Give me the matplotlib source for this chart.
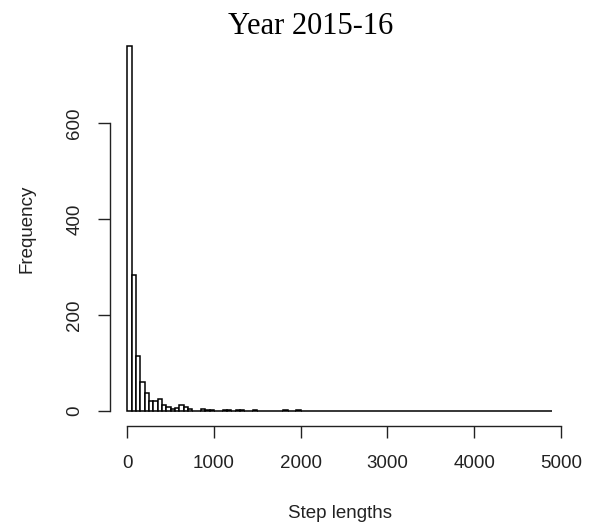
import numpy as np
import matplotlib
matplotlib.use("Agg")
import matplotlib.pyplot as plt

# histogram of step lengths, bins of width 50 from 0 to 4900
bin_width = 50
counts = [760, 283, 114, 61, 37, 21, 21, 26, 13, 8,
          4, 7, 12, 9, 4, 1, 1, 5, 2, 2,
          1, 0, 2, 2, 1, 2, 2, 1, 0, 2,
          0, 0, 0, 0, 0, 0, 2, 1, 1, 2] + [0] * 57 + [1]
x_ticks = [0, 1000, 2000, 3000, 4000, 5000]
y_ticks = [0, 200, 400, 600]

counts = np.array(counts)
edges = np.arange(len(counts) + 1) * bin_width

plt.rcParams['font.family'] = ['Liberation Sans', 'DejaVu Sans']

fig = plt.figure(figsize=(5.96, 5.30), dpi=100)
ax = fig.add_axes([0.1851, 0.1970, 0.7698, 0.7434])

ax.bar(edges[:-1], counts, width=bin_width, align='edge',
       facecolor='white', edgecolor='black', linewidth=1.1)

# R style limits: 4% padding around the data range
xr = edges[-1] - edges[0]
ax.set_xlim(edges[0] - 0.04 * xr, edges[-1] + 0.04 * xr)
yr = counts.max()
ax.set_ylim(-0.04 * yr, yr * 1.04)

for s in ['top', 'right']:
    ax.spines[s].set_visible(False)
ax.spines['left'].set_bounds(y_ticks[0], y_ticks[-1])
ax.spines['bottom'].set_bounds(x_ticks[0], x_ticks[-1])
for s in ['left', 'bottom']:
    ax.spines[s].set_linewidth(1.0)
    ax.spines[s].set_color('#222222')

ax.set_xticks(x_ticks)
ax.set_yticks(y_ticks)
ax.set_yticklabels([str(v) for v in y_ticks], rotation=90, va='center')
ax.tick_params(axis='both', length=8.4, width=1.0, color='#222222',
               labelsize=13.5, labelcolor='#222222')
ax.tick_params(axis='x', pad=13)
ax.tick_params(axis='y', pad=11)

fig.text(339.7 / 596, 1 - 513 / 530, 'Step lengths', ha='center', va='center',
         fontsize=13.5, color='#222222')
fig.text(27 / 596, 1 - 228.6 / 530, 'Frequency', ha='center', va='center',
         rotation=90, fontsize=13.5, color='#222222')
fig.text(228 / 596, 1 - 34 / 530, 'Year 2015-16', ha='left', va='baseline',
         fontsize=22, family=['Liberation Serif', 'DejaVu Serif'], color='black')

fig.savefig('out.png', dpi=100)
